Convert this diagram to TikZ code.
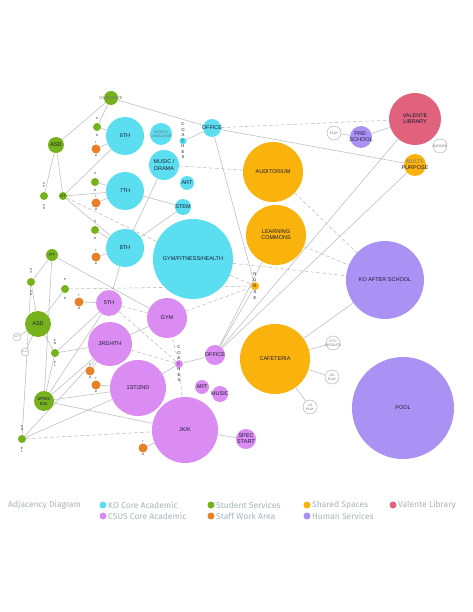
\documentclass[tikz,border=0pt]{standalone}
\usepackage{fontspec}
\setmainfont{Liberation Sans}
\newfontfamily\legendfont{Fira Sans}
\pgfdeclarelayer{bg}
\pgfsetlayers{bg,main}
\definecolor{ko}{RGB}{90,222,240}
\definecolor{csus}{RGB}{218,140,242}
\definecolor{stu}{RGB}{118,178,28}
\definecolor{staff}{RGB}{232,128,40}
\definecolor{shared}{RGB}{250,178,12}
\definecolor{val}{RGB}{224,98,124}
\definecolor{human}{RGB}{170,146,245}
\definecolor{edgec}{RGB}{188,188,188}
\definecolor{lbl}{RGB}{28,28,55}
\definecolor{leg}{RGB}{168,180,188}
\definecolor{soft}{RGB}{115,115,128}
\newcommand\bb[6][]{\node[bub,fill=#3,minimum size=#4pt] (#2) at (#5) {};\node[txt,#1] (#2t) at (#2) {#6};}
\newcommand\wb[3]{\node[wc] (#1) at (#2) {};\node[wtxt] (#1t) at (#1) {#3};}
\begin{document}
\begin{tikzpicture}[x=1pt,y=-1pt,
  bub/.style={circle,inner sep=0pt,draw=none},
  txt/.style={align=center,inner sep=0pt,text=lbl,font=\fontsize{5.5}{6.2}\selectfont},
  wc/.style={circle,draw=gray!70,fill=white,line width=0.4pt,minimum size=14pt,inner sep=0pt},
  wtxt/.style={align=center,inner sep=0pt,text=soft,font=\fontsize{3.4}{3.8}\selectfont},
  vl/.style={align=center,inner sep=0pt,text=lbl,font=\fontsize{4.2}{5.5}\selectfont},
  tl/.style={align=center,inner sep=0pt,text=lbl,font=\fontsize{3}{3.5}\selectfont},
  conn/.style={draw=edgec,line width=0.55pt},
  dconn/.style={conn,dash pattern=on 3.5pt off 2.5pt},
  legdot/.style={circle,inner sep=0pt,minimum size=7pt},
  legtxt/.style={anchor=west,inner sep=0pt,text=leg,font=\legendfont\fontsize{8.5}{9}\selectfont}]
\begin{pgfonlayer}{bg}
\path[use as bounding box,fill=white] (0,0) rectangle (473,612);
\end{pgfonlayer}
% ---------- KO core academic
\bb{sixth}{ko}{38}{125,136}{6TH}
\bb[text=soft,font=\fontsize{3.8}{4.2}\selectfont]{worldlang}{ko}{22}{161,134}{WORLD\\LANGUAGE}
\bb{music}{ko}{30}{164,165}{MUSIC /\\DRAMA}
\bb{artk}{ko}{14}{187,183}{ART}
\bb{stem}{ko}{16}{183,207}{STEM}
\bb{seventh}{ko}{38}{125,191}{7TH}
\bb{eighth}{ko}{38}{125,248}{8TH}
\bb{gymfit}{ko}{80}{193,259}{GYM/FITNESS/HEALTH}
\bb{officek}{ko}{18}{212,128}{OFFICE}
\node[bub,fill=ko,minimum size=7pt] (coachk) at (183,141) {};
\node[vl] (coachkt) at (183,141) {C\\O\\A\\C\\H\\E\\S};
% ---------- student services
\node[bub,fill=stu,minimum size=14pt] (guid) at (111,98) {};
\node[txt,text=soft,font=\fontsize{4.4}{5}\selectfont] (guidt) at (guid) {GUIDANCE};
\bb{asdA}{stu}{16}{56,145}{ASD}
\node[bub,fill=stu,minimum size=8pt] (spedA) at (97,127) {};
\node[tl] (spedAs) at (97,118) {S}; \node[tl] (spedAd) at (97,135.5) {D};
\node[bub,fill=stu,minimum size=8pt] (spedB) at (95,182) {};
\node[tl] (spedBs) at (95,173) {S}; \node[tl] (spedBd) at (95,190.5) {D};
\node[bub,fill=stu,minimum size=8pt] (spedC) at (95,230) {};
\node[tl] (spedCs) at (95,221) {S}; \node[tl] (spedCd) at (95,238.5) {D};
\node[bub,fill=stu,minimum size=8pt] (speechA) at (44,196) {};
\node[tl] (speechAa) at (44,185) {S\\P}; \node[tl] (speechAb) at (44,207) {C\\H};
\bb[font=\fontsize{3.8}{4}\selectfont]{ot}{stu}{8}{63,196}{OT}
\bb[font=\fontsize{4.2}{4.2}\selectfont]{pt}{stu}{12}{52,255}{PT}
\node[bub,fill=stu,minimum size=8pt] (speechB) at (31,282) {};
\node[tl] (speechBa) at (31,271) {S\\P}; \node[tl] (speechBb) at (31,293) {C\\H};
\node[bub,fill=stu,minimum size=8pt] (pe) at (65,289) {};
\node[tl] (pea) at (65,279) {P}; \node[tl] (peb) at (65,298) {E};
\bb{asdB}{stu}{26}{38,324}{ASD}
\node[bub,fill=stu,minimum size=8pt] (counA) at (55,353) {};
\node[tl] (counAa) at (55,342) {C\\O}; \node[tl] (counAb) at (55,364) {E\\L};
\bb[font=\fontsize{4.4}{5}\selectfont]{spedesl}{stu}{20}{44,401}{SPED/\\ESL}
\node[bub,fill=stu,minimum size=8pt] (counB) at (22,439) {};
\node[tl] (counBa) at (22,428) {C\\O}; \node[tl] (counBb) at (22,450) {E\\L};
% ---------- staff work areas
\node[bub,fill=staff,minimum size=9pt] (stfA) at (96,149) {};
\node[bub,fill=staff,minimum size=9pt] (stfB) at (96,203) {};
\node[bub,fill=staff,minimum size=9pt] (stfC) at (96,257) {};
\node[bub,fill=staff,minimum size=9pt] (stfD) at (79,302) {};
\node[bub,fill=staff,minimum size=9pt] (stfE) at (90,371) {};
\node[bub,fill=staff,minimum size=9pt] (stfF) at (96,385) {};
\node[bub,fill=staff,minimum size=9pt] (stfG) at (143,448) {};
\foreach \s in {stfA,stfB,stfC,stfD,stfE,stfF,stfG}{
  \node[tl,font=\fontsize{2.6}{3}\selectfont] (\s a) at ([yshift=6.5pt]\s.center) {T};
  \node[tl,font=\fontsize{2.6}{3}\selectfont] (\s b) at ([yshift=-6.5pt]\s.center) {M};}
% ---------- CSUS core academic
\bb{fifth}{csus}{26}{109,303}{5TH}
\bb{third}{csus}{44}{110,344}{3RD/4TH}
\bb{gym}{csus}{40}{167,318}{GYM}
\bb{first}{csus}{56}{138,388}{1ST/2ND}
\bb{jk}{csus}{66}{185,430}{JK/K}
\bb{officec}{csus}{20}{215,355}{OFFICE}
\node[bub,fill=csus,minimum size=8pt] (coachc) at (179,364) {};
\node[vl] (coachct) at (179,364) {C\\O\\A\\C\\H\\E\\S};
\bb{artc}{csus}{14}{202,387}{ART}
\bb{musicc}{csus}{16}{220,394}{MUSIC}
\bb{specstart}{csus}{20}{246,439}{SPEC\\START}
% ---------- shared spaces
\bb{audit}{shared}{60}{273,172}{AUDITORIUM}
\bb{learn}{shared}{60}{276,235}{LEARNING\\COMMONS}
\node[bub,fill=shared,minimum size=8pt] (nurse) at (255,286) {};
\node[vl,font=\fontsize{4.2}{6.2}\selectfont] (nurset) at (255,286) {N\\U\\R\\S\\E};
\bb{cafe}{shared}{70}{275,359}{CAFETERIA}
\bb{multi}{shared}{22}{415,165}{\textcolor{soft}{MULTI-}\\PURPOSE}
% ---------- library and human services
\bb{valente}{val}{52}{415,119}{VALENTE\\LIBRARY}
\bb{preschool}{human}{22}{361,137}{PRE-\\SCHOOL}
\bb{koafter}{human}{78}{385,280}{KO AFTER SCHOOL}
\bb{pool}{human}{102}{403,408}{POOL}
% ---------- outdoor / other
\wb{play}{334,133}{PLAY}
\wb{garden}{440,146}{GARDEN}
\wb{city}{333,343}{CITY\\SPROUTS}
\wb{usplay}{332,377}{US\\PLAY}
\wb{lsplay}{310,407}{LS\\PLAY}
\node[wc,minimum size=8pt] (wbt) at (17,337) {};
\node[wtxt,font=\fontsize{2.4}{3}\selectfont] (wbtt) at (wbt) {B/T};
\node[wc,minimum size=8pt] (wplay) at (25,352) {};
\node[wtxt,font=\fontsize{2.4}{3}\selectfont] (wplayt) at (wplay) {PLAY};
% ---------- connectors
\begin{pgfonlayer}{bg}
\draw[conn] (guid) -- (asdA);
\draw[conn] (guid) -- (spedA);
\draw[conn] (guid) -- (officek);
\draw[conn] (spedA) -- (sixth);
\draw[conn] (stfA) -- (sixth);
\draw[conn] (spedB) -- (seventh);
\draw[conn] (stfB) -- (seventh);
\draw[conn] (spedC) -- (eighth);
\draw[conn] (stfC) -- (eighth);
\draw[conn] (asdA) -- (speechA);
\draw[conn] (asdA) -- (ot);
\draw[conn] (ot) -- (sixth);
\draw[conn] (ot) -- (seventh);
\draw[conn] (ot) -- (eighth);
\draw[dconn] (ot) -- (gymfit);
\draw[conn] (music) -- (eighth);
\draw[conn] (seventh) -- (stem);
\draw[conn] (stem) -- (eighth);
\draw[conn] (coachk) -- (officek);
\draw[conn] (officek) -- (multi);
\draw[dconn] (officek) -- (valente);
\draw[conn] (officek) -- (nurse);
\draw[dconn] (music) -- (audit);
\draw[conn] (valente) -- (preschool);
\draw[conn] (preschool) -- (play);
\draw[dconn] (audit) -- (koafter);
\draw[dconn] (learn) -- (koafter);
\draw[dconn] (gymfit) -- (koafter);
\draw[dconn] (gymfit) -- (nurse);
\draw[dconn] (pe) -- (nurse);
\draw[dconn] (gym) -- (nurse);
\draw[conn] (officec) -- (nurse);
\draw[conn] (officec) -- (learn);
\draw[conn] (officec) -- (valente);
\draw[conn] (officec) -- (multi);
\draw[conn] (koafter) -- (cafe);
\draw[conn] (cafe) -- (city);
\draw[conn] (cafe) -- (usplay);
\draw[conn] (cafe) -- (lsplay);
\draw[conn] (pt) -- (speechB);
\draw[conn] (pt) -- (spedesl);
\draw[conn] (pt) -- (gym);
\draw[conn] (speechB) -- (asdB);
\draw[conn] (speechB) -- (counB);
\draw[conn] (pe) -- (asdB);
\draw[conn] (asdB) -- (wbt);
\draw[conn] (asdB) -- (wplay);
\draw[conn] (asdB) -- (counA);
\draw[conn] (stfD) -- (fifth);
\draw[conn] (eighth) -- (fifth);
\draw[conn] (counA) -- (fifth);
\draw[conn] (counA) -- (third);
\draw[conn] (spedesl) -- (counA);
\draw[conn] (spedesl) -- (fifth);
\draw[conn] (spedesl) -- (third);
\draw[conn] (spedesl) -- (first);
\draw[conn] (spedesl) -- (jk);
\draw[conn] (counB) -- (first);
\draw[conn] (counB) -- (third);
\draw[dconn] (counB) -- (jk);
\draw[conn] (stfE) -- (third);
\draw[conn] (stfF) -- (first);
\draw[conn] (stfG) -- (jk);
\draw[conn] (coachc) -- (officec);
\draw[conn] (coachc) -- (first);
\draw[dconn] (coachc) -- (jk);
\draw[dconn] (coachc) -- (fifth);
\draw[dconn] (coachc) -- (third);
\draw[dconn] (coachc) -- (gym);
\draw[conn] (third) -- (gym);
\draw[dconn] (fifth) -- (gym);
\draw[conn] (jk) -- (specstart);
\end{pgfonlayer}
% ---------- legend
\node[legtxt] (legtitle) at (8,505) {Adjacency Diagram};
\node[legdot,fill=ko] (d1) at (103,505) {};
\node[legtxt] (t1) at (108,505) {KO Core Academic};
\node[legdot,fill=stu] (d2) at (211,505) {};
\node[legtxt] (t2) at (216,505) {Student Services};
\node[legdot,fill=shared] (d3) at (307,505) {};
\node[legtxt] (t3) at (312,505) {Shared Spaces};
\node[legdot,fill=val] (d4) at (393,505) {};
\node[legtxt] (t4) at (398,505) {Valente Library};
\node[legdot,fill=csus] (d5) at (103,516) {};
\node[legtxt] (t5) at (108,516) {CSUS Core Academic};
\node[legdot,fill=staff] (d6) at (211,516) {};
\node[legtxt] (t6) at (216,516) {Staff Work Area};
\node[legdot,fill=human] (d7) at (307,516) {};
\node[legtxt] (t7) at (312,516) {Human Services};
\end{tikzpicture}
\end{document}
